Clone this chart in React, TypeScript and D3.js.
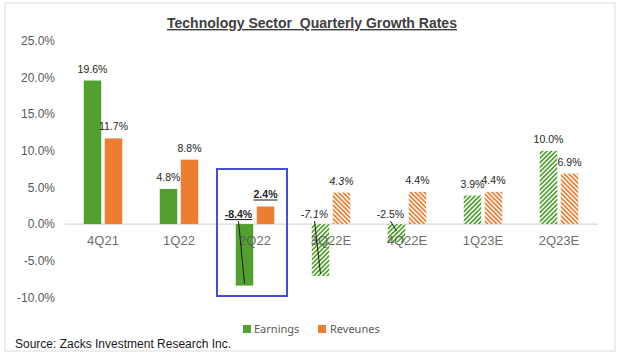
import * as d3 from "d3";

const categories = ["4Q21", "1Q22", "2Q22", "3Q22E", "4Q22E", "1Q23E", "2Q23E"];
const earnings = [19.6, 4.8, -8.4, -7.1, -2.5, 3.9, 10.0];
const revenues = [11.7, 8.8, 2.4, 4.3, 4.4, 4.4, 6.9];
const yTicks = [-10, -5, 0, 5, 10, 15, 20, 25];
// first estimate quarter (from here on bars are hatched)
const firstEstimate = 3;
const highlighted = 2;
const italicLabels = [3];

const W = 620;
const H = 363;
const GREEN = "#52a02f";
const ORANGE = "#ed7d31";
const FONT = "'Liberation Sans', Arial, sans-serif";

export default function App() {
  const x = d3.scaleBand<string>().domain(categories).range([65, 597]).padding(0);
  const inner = d3
    .scaleBand<string>()
    .domain(["e", "r"])
    .range([-19.25, 19.25])
    .paddingInner(0.167);
  const y = d3.scaleLinear().domain([-10, 25]).range([297.3, 41]);
  const bw = inner.bandwidth();
  const fmt = (v: number) => (v < 0 ? "-" : "") + d3.format(".1f")(Math.abs(v)) + "%";

  const series = [
    { key: "e", values: earnings, color: GREEN, hatch: "url(#hatchG)" },
    { key: "r", values: revenues, color: ORANGE, hatch: "url(#hatchO)" },
  ];

  const hiX = x(categories[highlighted])!;

  return (
    <svg
      width={W}
      height={H}
      style={{ position: "absolute", left: 0, top: 0, background: "#fff" }}
      fontFamily={FONT}
    >
      <defs>
        <pattern id="hatchG" patternUnits="userSpaceOnUse" width={3.2} height={3.2} patternTransform="rotate(45)">
          <rect width={3.2} height={3.2} fill="#fff" />
          <rect width={1.7} height={3.2} fill={GREEN} />
        </pattern>
        <pattern id="hatchO" patternUnits="userSpaceOnUse" width={3.2} height={3.2} patternTransform="rotate(-45)">
          <rect width={3.2} height={3.2} fill="#fff" />
          <rect width={1.7} height={3.2} fill={ORANGE} />
        </pattern>
      </defs>

      <rect x={5} y={3} width={610} height={348} fill="#fff" stroke="#dcdcdc" />

      <text
        x={312}
        y={28}
        textAnchor="middle"
        fontSize={14}
        fontWeight="bold"
        fill="#404040"
        textDecoration="underline"
        style={{ whiteSpace: "pre" }}
      >
        Technology Sector  Quarterly Growth Rates
      </text>

      {yTicks.map((t) => (
        <text key={t} x={55} y={y(t)} dy="0.35em" textAnchor="end" fontSize={12} fill="#595959">
          {fmt(t)}
        </text>
      ))}

      <line x1={65} x2={598} y1={y(0)} y2={y(0)} stroke="#d9d9d9" strokeWidth={1.3} />

      {series.map((s) =>
        s.values.map((v, i) => {
          const cx = x(categories[i])! + x.bandwidth() / 2 + inner(s.key)!;
          return (
            <rect
              key={s.key + i}
              x={cx}
              y={Math.min(y(v), y(0))}
              width={bw}
              height={Math.abs(y(v) - y(0))}
              fill={i >= firstEstimate ? s.hatch : s.color}
            />
          );
        })
      )}

      {categories.map((c) => (
        <text key={c} x={x(c)! + x.bandwidth() / 2} y={245} textAnchor="middle" fontSize={13} fill="#595959" fillOpacity={0.9}>
          {c}
        </text>
      ))}

      {series.map((s) =>
        s.values.map((v, i) => {
          const bc = x(categories[i])! + x.bandwidth() / 2 + inner(s.key)! + bw / 2;
          const bold = i === highlighted;
          const italic = italicLabels.includes(i);
          const lx = v >= 0 ? bc : bc - 6;
          const ly = v >= 0 ? y(v) - 8 : y(0) - 6;
          const endY = v < -5 ? y(v) - 2 : y(0) + 7;
          return (
            <g key={"l" + s.key + i}>
              <text
                x={lx}
                y={ly}
                textAnchor="middle"
                fontSize={10.5}
                fontWeight={bold ? "bold" : "normal"}
                fontStyle={italic ? "italic" : "normal"}
                textDecoration={bold ? "underline" : "none"}
                fill="#262626"
              >
                {fmt(v)}
              </text>
              {v < 0 && (
                <line x1={lx} y1={y(0) - 3} x2={bc} y2={endY} stroke="#111" strokeWidth={0.9} />
              )}
            </g>
          );
        })
      )}

      <rect
        x={hiX}
        y={169}
        width={x.bandwidth() - 6}
        height={127}
        fill="none"
        stroke="#4150d6"
        strokeWidth={2}
      />

      <g fontFamily="'Noto Sans', 'Open Sans', sans-serif" fontSize={11} fill="#595959">
        <rect x={243} y={325} width={8} height={8} fill={GREEN} />
        <text x={254} y={333}>Earnings</text>
        <rect x={318} y={325} width={8} height={8} fill={ORANGE} />
        <text x={330} y={333}>Reveunes</text>
      </g>

      <text x={15} y={348} fontSize={12} fill="#1a1a1a">
        Source: Zacks Investment Research Inc.
      </text>
    </svg>
  );
}
